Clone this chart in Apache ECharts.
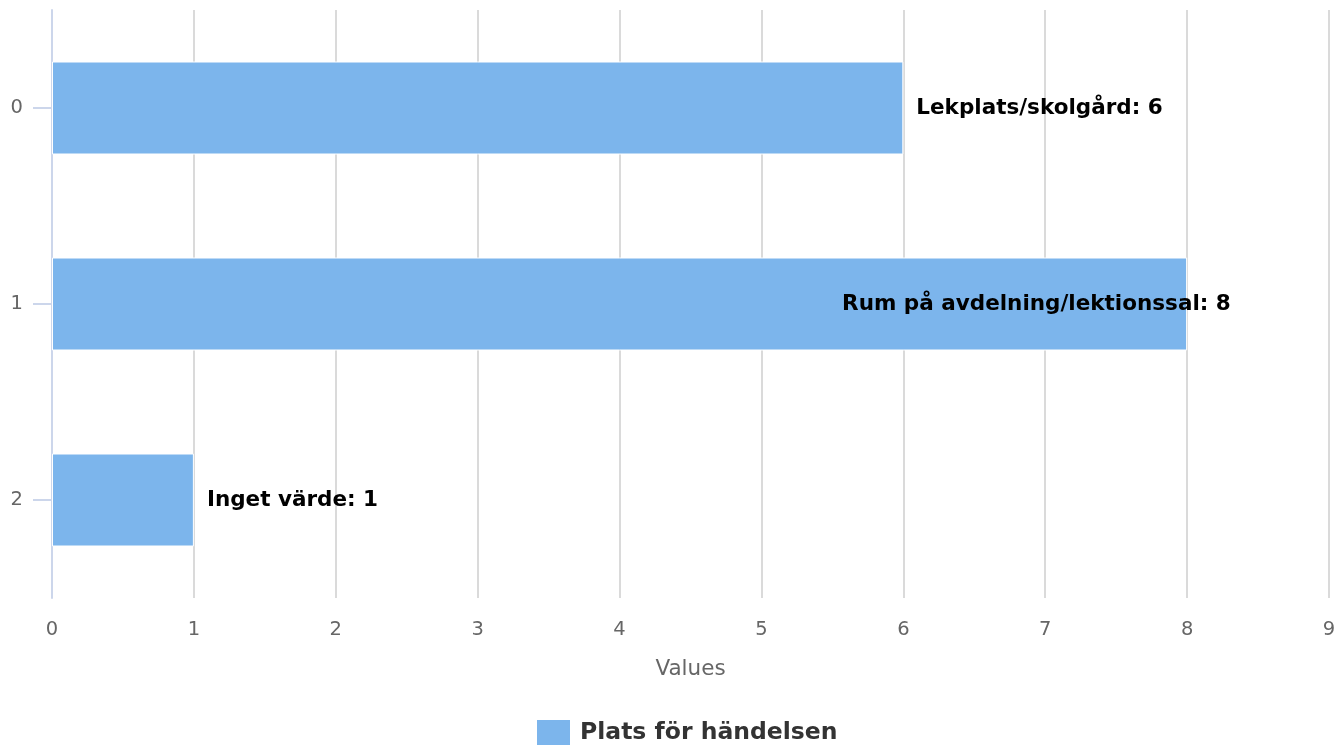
<!DOCTYPE html>
<html>
<head>
<meta charset="utf-8">
<script src="https://cdn.jsdelivr.net/npm/echarts@6/dist/echarts.min.js"></script>
<style>
html,body{margin:0;padding:0;background:#fff;}
#chart{width:1342px;height:749px;}
</style>
</head>
<body>
<div id="chart"></div>
<script>
const categories = ['0', '1', '2'];
const labelNames = ['Lekplats/skolgård', 'Rum på avdelning/lektionssal', 'Inget värde'];
const values = [6, 8, 1];
const seriesName = 'Plats för händelsen';
const xTicks = [0, 9, 1]; // min, max, interval

const FONT = '"DejaVu Sans", Verdana, sans-serif';
const chart = echarts.init(document.getElementById('chart'));

const data = values.map((v, i) => {
  const item = { value: v, name: labelNames[i] };
  if (v === 8) item.label = { offset: [-358, 0] };
  return item;
});

chart.setOption({
  animation: false,
  textStyle: { fontFamily: FONT },
  grid: { left: 52, right: 13, top: 10, bottom: 151, containLabel: false },
  legend: {
    bottom: -1,
    left: 532,
    itemWidth: 33,
    itemHeight: 25,
    itemGap: 20,
    icon: 'rect',
    itemStyle: { borderWidth: 0 },
    textStyle: { fontFamily: FONT, fontSize: 23.5, fontWeight: 'bold', color: '#333', padding: [0, 0, 0, 5] },
    data: [seriesName]
  },
  xAxis: {
    type: 'value',
    min: xTicks[0], max: xTicks[1], interval: xTicks[2],
    name: 'Values',
    nameLocation: 'middle',
    nameGap: 60,
    nameTextStyle: { fontFamily: FONT, fontSize: 21.5, color: '#666' },
    axisLine: { show: false },
    axisTick: { show: false },
    axisLabel: { fontFamily: FONT, fontSize: 19.5, color: '#666', margin: 22 },
    splitLine: { show: true, lineStyle: { color: '#dadada', width: 2 } }
  },
  yAxis: {
    type: 'category',
    data: categories,
    inverse: true,
    axisLine: { show: true, lineStyle: { color: '#ccd6eb', width: 2 } },
    axisTick: { show: true, alignWithLabel: true, length: 19, lineStyle: { color: '#ccd6eb', width: 2 } },
    axisLabel: { fontFamily: FONT, fontSize: 19.5, color: '#666', margin: 29 },
    splitLine: { show: false }
  },
  series: [{
    name: seriesName,
    type: 'bar',
    data: data,
    barWidth: 93,
    itemStyle: { color: '#7cb5ec', borderColor: '#fff', borderWidth: 1 },
    label: {
      show: true,
      position: 'right',
      distance: 13,
      fontFamily: FONT,
      fontSize: 21.5,
      fontWeight: 'bold',
      color: '#000',
      formatter: p => p.name + ': ' + p.value
    }
  }]
});
</script>
</body>
</html>
